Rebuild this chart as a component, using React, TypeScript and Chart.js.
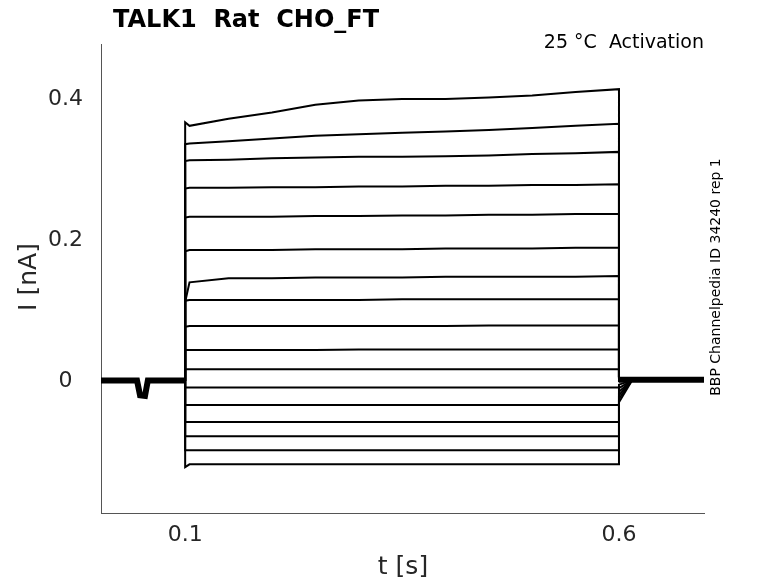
import { useEffect, useRef } from 'react';
import { Chart, registerables } from 'chart.js';

Chart.register(...registerables);

const TITLE = 'TALK1  Rat  CHO_FT';
const NOTE = '25 °C  Activation';
const SIDE = 'BBP Channelpedia ID 34240 rep 1';
const X_TITLE = 't [s]';
const Y_TITLE = 'I [nA]';

const X_TICKS = [0.1, 0.6];
const Y_TICKS = [0, 0.2, 0.4];

// holding current before the pulse (with the small dip) and after it
const PRE_T = [0.003, 0.0445, 0.048, 0.0537, 0.057, 0.1];
const PRE_I = [0.001, 0.001, -0.02, -0.021, 0.001, 0.001];
const POST_T = [0.6, 0.698];
const POST_I = [0.002, 0.002];

// pulse knots (s) and one row of currents (nA) per sweep
const PULSE_T = [0.1, 0.105, 0.15, 0.2, 0.25, 0.3, 0.35, 0.4, 0.45, 0.5, 0.55, 0.6];
const SWEEPS = [
  [0.367, 0.362, 0.372, 0.381, 0.392, 0.398, 0.400, 0.400, 0.402, 0.405, 0.410, 0.414],
  [0.336, 0.337, 0.340, 0.344, 0.348, 0.350, 0.352, 0.354, 0.356, 0.359, 0.362, 0.365],
  [0.312, 0.313, 0.314, 0.316, 0.317, 0.318, 0.318, 0.319, 0.320, 0.322, 0.323, 0.325],
  [0.273, 0.274, 0.274, 0.275, 0.275, 0.276, 0.276, 0.277, 0.277, 0.278, 0.278, 0.279],
  [0.232, 0.233, 0.233, 0.233, 0.234, 0.234, 0.235, 0.235, 0.236, 0.236, 0.237, 0.237],
  [0.184, 0.186, 0.186, 0.186, 0.187, 0.187, 0.187, 0.188, 0.188, 0.188, 0.189, 0.189],
  [0.112, 0.140, 0.146, 0.146, 0.147, 0.147, 0.147, 0.148, 0.148, 0.148, 0.148, 0.149],
  [0.114, 0.115, 0.115, 0.115, 0.115, 0.115, 0.116, 0.116, 0.116, 0.116, 0.116, 0.116],
  [0.077, 0.078, 0.078, 0.078, 0.078, 0.078, 0.078, 0.078, 0.079, 0.079, 0.079, 0.079],
  [0.044, 0.044, 0.044, 0.044, 0.044, 0.045, 0.045, 0.045, 0.045, 0.045, 0.045, 0.045],
  [0.017, 0.017, 0.017, 0.017, 0.017, 0.017, 0.017, 0.017, 0.017, 0.017, 0.017, 0.017],
  [-0.009, -0.009, -0.009, -0.009, -0.009, -0.009, -0.009, -0.009, -0.009, -0.009, -0.009, -0.009],
  [-0.034, -0.034, -0.034, -0.034, -0.034, -0.034, -0.034, -0.034, -0.034, -0.034, -0.034, -0.034],
  [-0.058, -0.058, -0.058, -0.058, -0.058, -0.058, -0.058, -0.058, -0.058, -0.058, -0.058, -0.058],
  [-0.078, -0.078, -0.078, -0.078, -0.078, -0.078, -0.078, -0.078, -0.078, -0.078, -0.078, -0.078],
  [-0.098, -0.098, -0.098, -0.098, -0.098, -0.098, -0.098, -0.098, -0.098, -0.098, -0.098, -0.098],
  [-0.122, -0.118, -0.118, -0.118, -0.118, -0.118, -0.118, -0.118, -0.118, -0.118, -0.118, -0.118],
];
// tail current right after the pulse ends, per sweep
const TAIL_T = [0.6, 0.615];
const TAIL_I = [0.004, 0.004, 0.004, 0.004, 0.004, 0.004, 0.003, 0.003, 0.002, 0.001, 0, -0.005, -0.01, -0.015, -0.02, -0.025, -0.03];

const FONT = '"DejaVu Sans", sans-serif';

const textPlugin = {
  id: 'texts',
  afterDraw(chart: Chart) {
    const ctx = chart.ctx;
    ctx.save();
    ctx.fillStyle = '#000';
    ctx.font = `bold 24px ${FONT}`;
    ctx.textAlign = 'left';
    ctx.textBaseline = 'alphabetic';
    ctx.fillText(TITLE, 113, 27);
    ctx.font = `19px ${FONT}`;
    ctx.textAlign = 'right';
    ctx.fillText(NOTE, 704, 48);

    ctx.fillStyle = '#262626';
    ctx.font = `25px ${FONT}`;
    ctx.textAlign = 'center';
    ctx.textBaseline = 'middle';
    ctx.fillText(X_TITLE, 403, 567);
    ctx.save();
    ctx.translate(29, 277);
    ctx.rotate(-Math.PI / 2);
    ctx.fillText(Y_TITLE, 0, 0);
    ctx.restore();

    ctx.fillStyle = '#000';
    ctx.font = `14px ${FONT}`;
    ctx.translate(716, 277);
    ctx.rotate(-Math.PI / 2);
    ctx.fillText(SIDE, 0, 0);
    ctx.restore();
  },
};

export default function App() {
  const canvasRef = useRef<HTMLCanvasElement>(null);

  useEffect(() => {
    if (!canvasRef.current) return;
    const line = { borderColor: '#000', pointRadius: 0, tension: 0, fill: false };
    const datasets: any[] = [
      { ...line, data: PRE_T.map((t, i) => ({ x: t, y: PRE_I[i] })), borderWidth: 6 },
      { ...line, data: POST_T.map((t, i) => ({ x: t, y: POST_I[i] })), borderWidth: 6 },
    ];
    SWEEPS.forEach((row, k) => {
      const pts = [{ x: 0.1, y: 0 }, ...PULSE_T.map((t, i) => ({ x: t, y: row[i] })), { x: TAIL_T[0], y: TAIL_I[k] }, { x: TAIL_T[1], y: 0.001 }];
      datasets.push({ ...line, data: pts, borderWidth: 2 });
    });

    const chart = new Chart(canvasRef.current.getContext('2d')!, {
      type: 'line',
      data: { datasets },
      plugins: [textPlugin],
      options: {
        animation: false,
        responsive: true,
        maintainAspectRatio: false,
        layout: { padding: { left: 0, top: 44, right: 74, bottom: 0 } },
        plugins: { legend: { display: false }, tooltip: { enabled: false } },
        scales: {
          x: {
            type: 'linear', min: 0.003, max: 0.698,
            afterFit: (s: any) => { s.height = 70; },
            afterBuildTicks: (s: any) => { s.ticks = X_TICKS.map(v => ({ value: v })); },
            ticks: { color: '#262626', font: { size: 22, family: 'DejaVu Sans' }, padding: 9, callback: (v: any) => String(v) },
            grid: { display: false, drawTicks: false },
            border: { display: true, color: '#555', width: 1 },
          },
          y: {
            type: 'linear', min: -0.187, max: 0.478,
            afterFit: (s: any) => { s.width = 101; },
            afterBuildTicks: (s: any) => { s.ticks = Y_TICKS.map(v => ({ value: v })); },
            ticks: { color: '#262626', font: { size: 22, family: 'DejaVu Sans' }, padding: 18, crossAlign: 'center', callback: (v: any) => String(v) },
            grid: { display: false, drawTicks: false },
            border: { display: true, color: '#555', width: 1 },
          },
        },
      },
    });
    return () => { chart.destroy(); };
  }, []);

  return (
    <div style={{ position: 'fixed', left: 0, top: 0, width: 778, height: 583, background: '#fff' }}>
      <canvas ref={canvasRef} />
    </div>
  );
}
